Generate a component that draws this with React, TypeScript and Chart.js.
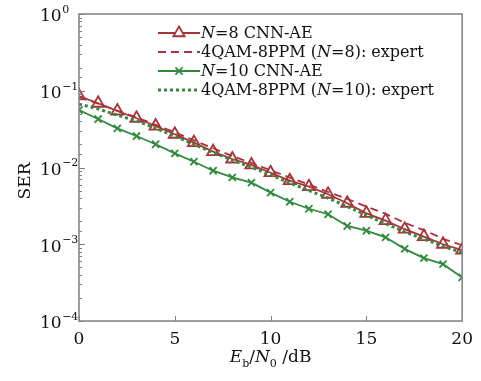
import { useEffect, useRef } from 'react';
import { Chart, registerables } from 'chart.js';

Chart.register(...registerables);

// ---- data ----
const snrDb = [0, 1, 2, 3, 4, 5, 6, 7, 8, 9, 10, 11, 12, 13, 14, 15, 16, 17, 18, 19, 20];
const n8CnnAe = [0.0855, 0.0687, 0.0545, 0.0438, 0.0347, 0.0271, 0.0211, 0.0161, 0.0129, 0.0108, 0.00855, 0.00673, 0.00562, 0.00448, 0.00342, 0.00253, 0.00203, 0.00157, 0.00126, 0.001, 0.00084];
const n8Expert = [0.083, 0.068, 0.055, 0.045, 0.036, 0.0288, 0.0226, 0.0178, 0.0141, 0.0115, 0.0092, 0.0074, 0.006, 0.0048, 0.0039, 0.0031, 0.0025, 0.0019, 0.00153, 0.00118, 0.00097];
const n10CnnAe = [0.0561, 0.0428, 0.0324, 0.0257, 0.0201, 0.0153, 0.0119, 0.00908, 0.00745, 0.00634, 0.0047, 0.00358, 0.0029, 0.00246, 0.00173, 0.0015, 0.00123, 0.00087, 0.00066, 0.00055, 0.00037];
const n10Expert = [0.067, 0.058, 0.048, 0.0405, 0.0325, 0.0255, 0.02, 0.0157, 0.0125, 0.0101, 0.008, 0.0063, 0.005, 0.004, 0.0031, 0.0024, 0.00185, 0.00145, 0.00117, 0.00094, 0.00078];
const xTickStep = 5;
const yDecadeExponents = ['0', '\u22121', '\u22122', '\u22123', '\u22124'];

type Run = { t: string; i?: boolean; sub?: boolean };
const legendLabels: Run[][] = [
  [{ t: 'N', i: true }, { t: '=8 CNN-AE' }],
  [{ t: '4QAM-8PPM (' }, { t: 'N', i: true }, { t: '=8): expert' }],
  [{ t: 'N', i: true }, { t: '=10 CNN-AE' }],
  [{ t: '4QAM-8PPM (' }, { t: 'N', i: true }, { t: '=10): expert' }],
];
const xTitle: Run[] = [
  { t: 'E', i: true }, { t: 'b', sub: true }, { t: '/' }, { t: 'N', i: true }, { t: '0', sub: true }, { t: ' /dB' },
];
const yTitle = 'SER';

const RED = '#a8333a';
const GREEN = '#2f8a3c';
const AXIS = '#808080';
const FONT = '"DejaVu Serif", serif';

function runsWidth(ctx: CanvasRenderingContext2D, runs: Run[], size: number) {
  let w = 0;
  for (const r of runs) {
    ctx.font = `${r.i ? 'italic ' : ''}${r.sub ? Math.round(size * 0.65) : size}px ${FONT}`;
    w += ctx.measureText(r.t).width;
  }
  return w;
}
function drawRuns(ctx: CanvasRenderingContext2D, runs: Run[], x: number, y: number, size: number) {
  for (const r of runs) {
    ctx.font = `${r.i ? 'italic ' : ''}${r.sub ? Math.round(size * 0.65) : size}px ${FONT}`;
    ctx.fillText(r.t, x, y + (r.sub ? size * 0.3 : 0));
    x += ctx.measureText(r.t).width;
  }
}

const decorPlugin = {
  id: 'decor',
  afterDraw(chart: any) {
    const ctx: CanvasRenderingContext2D = chart.ctx;
    const { left, right, top, bottom } = chart.chartArea;
    const xs = chart.scales.x;
    const ys = chart.scales.y;
    ctx.save();
    // frame
    ctx.strokeStyle = AXIS;
    ctx.lineWidth = 1.5;
    ctx.strokeRect(left, top, right - left, bottom - top);
    // inward ticks
    ctx.lineWidth = 1;
    ctx.beginPath();
    for (const t of ys.ticks) {
      const py = Math.round(ys.getPixelForValue(t.value)) + 0.5;
      const dec = Math.abs(Math.log10(t.value) - Math.round(Math.log10(t.value))) < 1e-6;
      const len = dec ? 6 : 3;
      ctx.moveTo(left, py);
      ctx.lineTo(left + len, py);
    }
    for (const t of xs.ticks) {
      const px = Math.round(xs.getPixelForValue(t.value)) + 0.5;
      ctx.moveTo(px, bottom);
      ctx.lineTo(px, bottom - 5);
    }
    ctx.stroke();
    // y labels 10^n
    ctx.fillStyle = '#111';
    ctx.textBaseline = 'middle';
    ctx.textAlign = 'left';
    yDecadeExponents.forEach((e, k) => {
      const py = ys.getPixelForValue(Math.pow(10, -k));
      ctx.font = `17px ${FONT}`;
      const x0 = 40;
      ctx.fillText('10', x0, py + 3);
      const w = ctx.measureText('10').width;
      ctx.font = `11px ${FONT}`;
      ctx.fillText(e, x0 + w + 0.5, py - 4);
    });
    // y title
    ctx.save();
    ctx.translate(26, 181);
    ctx.rotate(-Math.PI / 2);
    ctx.font = `17px ${FONT}`;
    ctx.textAlign = 'center';
    ctx.fillText(yTitle, 0, 0);
    ctx.restore();
    // x title
    ctx.textBaseline = 'alphabetic';
    const tw = runsWidth(ctx, xTitle, 17);
    drawRuns(ctx, xTitle, (left + right) / 2 - tw / 2, 362, 17);
    // legend
    const rowsY = [33, 52, 71, 90];
    const lx0 = 158, lx1 = 200, mx = 179, tx = 201;
    ctx.textBaseline = 'middle';
    rowsY.forEach((ry, k) => {
      ctx.save();
      ctx.beginPath();
      ctx.strokeStyle = k < 2 ? RED : GREEN;
      if (k === 1) { ctx.setLineDash([8, 5]); ctx.lineWidth = 1.8; }
      else if (k === 3) { ctx.setLineDash([3, 3]); ctx.lineWidth = 3; }
      else ctx.lineWidth = 1.8;
      ctx.moveTo(lx0, ry);
      ctx.lineTo(lx1, ry);
      ctx.stroke();
      ctx.setLineDash([]);
      if (k === 0) {
        const r = 6.5;
        ctx.beginPath();
        ctx.moveTo(mx, ry - r);
        ctx.lineTo(mx + r * 0.866, ry + r / 2);
        ctx.lineTo(mx - r * 0.866, ry + r / 2);
        ctx.closePath();
        ctx.fillStyle = '#fff';
        ctx.fill();
        ctx.stroke();
      } else if (k === 2) {
        const r = 3.6;
        ctx.beginPath();
        ctx.moveTo(mx - r, ry - r); ctx.lineTo(mx + r, ry + r);
        ctx.moveTo(mx + r, ry - r); ctx.lineTo(mx - r, ry + r);
        ctx.stroke();
      }
      ctx.restore();
      ctx.fillStyle = '#111';
      drawRuns(ctx, legendLabels[k], tx, ry + 1, 16);
    });
    ctx.restore();
  },
};

export default function App() {
  const ref = useRef<HTMLCanvasElement | null>(null);
  useEffect(() => {
    if (!ref.current) return;
    const chart = new Chart(ref.current, {
      type: 'line',
      data: {
        labels: snrDb,
        datasets: [
          {
            label: 'N=8 CNN-AE',
            data: snrDb.map((x, i) => ({ x, y: n8CnnAe[i] })),
            borderColor: RED,
            borderWidth: 1.8,
            pointStyle: 'triangle',
            pointRadius: 7,
            pointBorderWidth: 1.8,
            pointBorderColor: RED,
            pointBackgroundColor: 'rgba(255,255,255,0)',
            order: 3,
          },
          {
            label: '4QAM-8PPM (N=8): expert',
            data: snrDb.map((x, i) => ({ x, y: n8Expert[i] })),
            borderColor: RED,
            borderWidth: 1.8,
            borderDash: [8, 5],
            pointRadius: 0,
            order: 2,
          },
          {
            label: 'N=10 CNN-AE',
            data: snrDb.map((x, i) => ({ x, y: n10CnnAe[i] })),
            borderColor: GREEN,
            borderWidth: 1.8,
            pointStyle: 'crossRot',
            pointRadius: 5,
            pointBorderWidth: 1.8,
            pointBorderColor: GREEN,
            order: 4,
          },
          {
            label: '4QAM-8PPM (N=10): expert',
            data: snrDb.map((x, i) => ({ x, y: n10Expert[i] })),
            borderColor: GREEN,
            borderWidth: 3,
            borderDash: [3, 3],
            borderCapStyle: 'butt',
            pointRadius: 0,
            order: 1,
          },
        ],
      },
      options: {
        animation: false,
        responsive: true,
        maintainAspectRatio: false,
        layout: { padding: { top: 14, right: 18, left: 0, bottom: 0 } },
        plugins: { legend: { display: false }, tooltip: { enabled: false } },
        scales: {
          x: {
            type: 'linear',
            min: 0,
            max: 20,
            ticks: { stepSize: xTickStep, color: '#111', font: { family: FONT, size: 17 }, padding: 8, maxRotation: 0 },
            grid: { display: false, drawTicks: false },
            border: { display: false },
            afterFit: (s: any) => { s.height = 60; },
          },
          y: {
            type: 'logarithmic',
            min: 1e-4,
            max: 1,
            ticks: { display: false },
            grid: { display: false, drawTicks: false },
            border: { display: false },
            afterFit: (s: any) => { s.width = 79; },
          },
        },
      },
      plugins: [decorPlugin],
    } as any);
    return () => chart.destroy();
  }, []);
  return (
    <div style={{ position: 'absolute', left: 0, top: 0, width: 481, height: 381, background: '#fff' }}>
      <canvas ref={ref} />
    </div>
  );
}
